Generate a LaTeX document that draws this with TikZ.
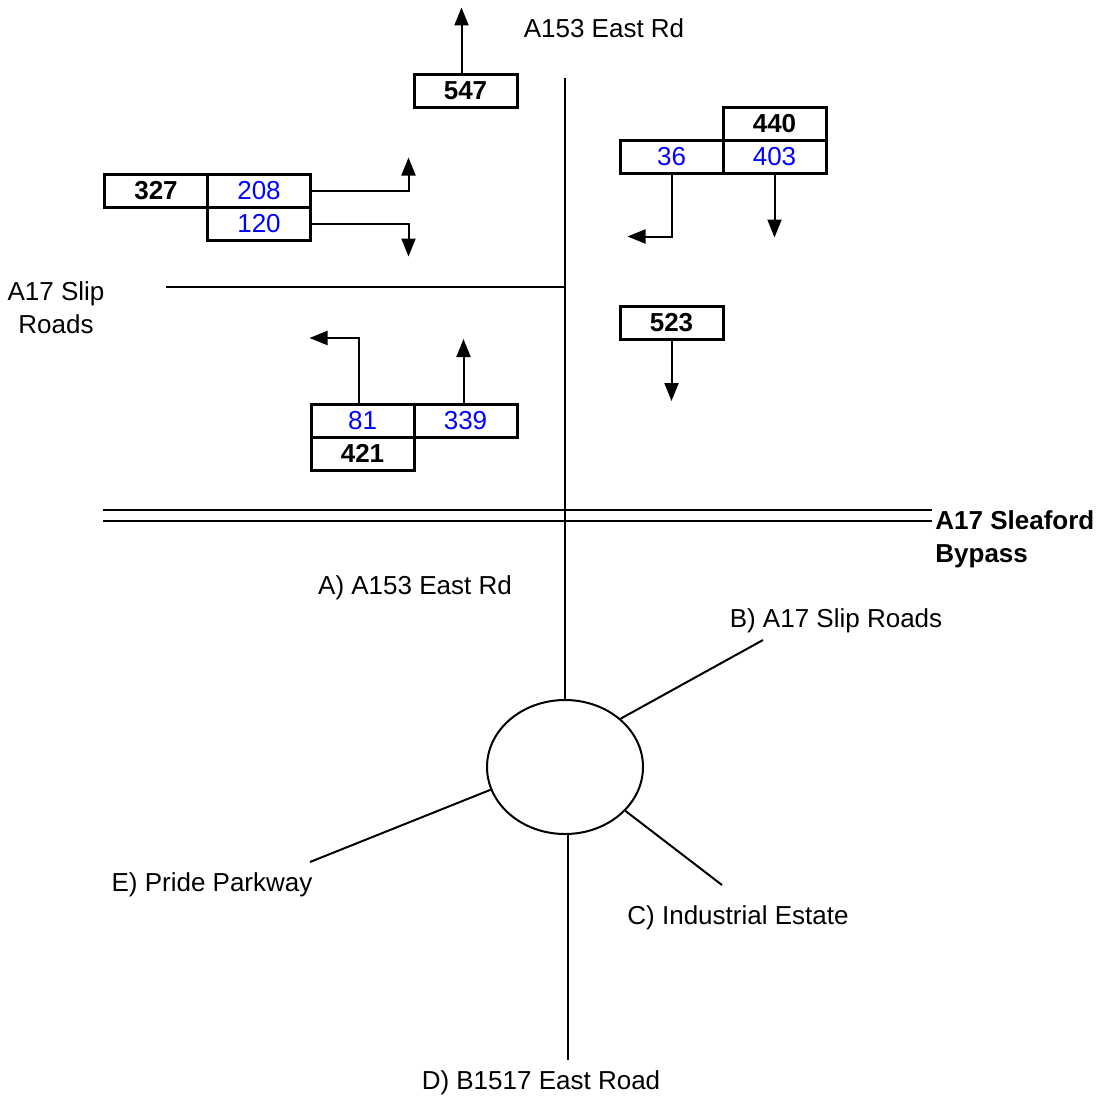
\documentclass[tikz,border=0pt]{standalone}
\usepackage{fontspec}
\setmainfont{Liberation Sans}
\usetikzlibrary{arrows.meta,positioning,shapes.geometric}
\definecolor{cntblue}{RGB}{0,0,255}

\begin{document}
\begin{tikzpicture}[x=0.5pt, y=-0.5pt,
      font=\fontsize{13}{16.5}\selectfont,
      cnt/.style={draw, line width=1.5pt, outer sep=0pt, inner sep=0pt, minimum width=51.5pt, minimum height=16.5pt},
      tot/.style={cnt, font=\fontsize{13}{16.5}\selectfont\bfseries},
      turn/.style={cnt, text=cntblue},
      flow/.style={line width=1pt, -{Triangle[length=9pt,width=7pt]}},
      road/.style={line width=1pt},
      node distance=0pt
    ]
      \useasboundingbox (0,0) rectangle (1101,1097);

      % roads
      \coordinate (aTop) at (565,78);
      \coordinate (slipEnd) at (166,287);
      \coordinate (slipJoin) at (565,287);
      \draw[road] (slipEnd) -- (slipJoin);
      \draw[road] (103,510) -- (932,510);
      \draw[road] (103,521) -- (932,521);
      \node[anchor=west, align=left, inner sep=0pt, font=\fontsize{13}{16.5}\selectfont\bfseries] (bypass) at (935,539) {A17 Sleaford\\Bypass};
      \node (aLbl) at (604,28) {A153 East Rd};
      \node[align=center] (slipLbl) at (56,308) {A17 Slip\\Roads};

      % counts from A153 East Rd
      \node[tot] (b547) at (465.5,91) {547};
      \draw[flow] ([xshift=-2pt]b547.north) -- ++(0,-67);

      % counts from A17 slip roads
      \node[tot] (b327) at (156,190.5) {327};
      \node[turn, right=of b327] (b208) {208};
      \node[turn, below=of b208] (b120) {120};
      \draw[flow] (b208.east) -| ++(98,-33);
      \draw[flow] (b120.east) -| ++(98,33);

      % counts from the east side
      \node[tot] (b440) at (774.5,124) {440};
      \node[turn, below=of b440] (b403) {403};
      \node[turn, left=of b403] (b36) {36};
      \draw[flow] (b36.south) |- ++(-44,63);
      \draw[flow] (b403.south) -- ++(0,64);

      \node[tot] (b523) at (671.5,322.5) {523};
      \draw[flow] (b523.south) -- ++(0,62);

      % counts from the bypass side
      \node[turn] (b81) at (362.5,420.5) {81};
      \node[turn, right=of b81] (b339) {339};
      \node[tot, below=of b81] (b421) {421};
      \draw[flow] ([xshift=-2pt]b81.north) |- ++(-49,-66);
      \draw[flow] ([xshift=-1pt]b339.north) -- ++(0,-65);

      % roundabout
      \node[draw, ellipse, line width=1pt, minimum width=78pt, minimum height=67pt, inner sep=0pt] (rbt) at (565,767) {};
      \draw[road] (aTop) -- (rbt.north);

      \coordinate (bEnd) at (763,640);
      \coordinate (cEnd) at (722,885);
      \coordinate (dEnd) at (568,1060);
      \coordinate (eEnd) at (310,862);
      \draw[road] (rbt.41) -- (bEnd);
      \draw[road] (rbt.-36) -- (cEnd);
      \draw[road] (rbt.south -| dEnd) -- (dEnd);
      \draw[road] (rbt.197) -- (eEnd);

      \node (aArm) at (415,588) {A) A153 East Rd};
      \node (bArm) at (836,621) {B) A17 Slip Roads};
      \node (cArm) at (738,918) {C) Industrial Estate};
      \node (dArm) at (541,1083) {D) B1517 East Road};
      \node (eArm) at (212,885) {E) Pride Parkway};
    \end{tikzpicture}
\end{document}
